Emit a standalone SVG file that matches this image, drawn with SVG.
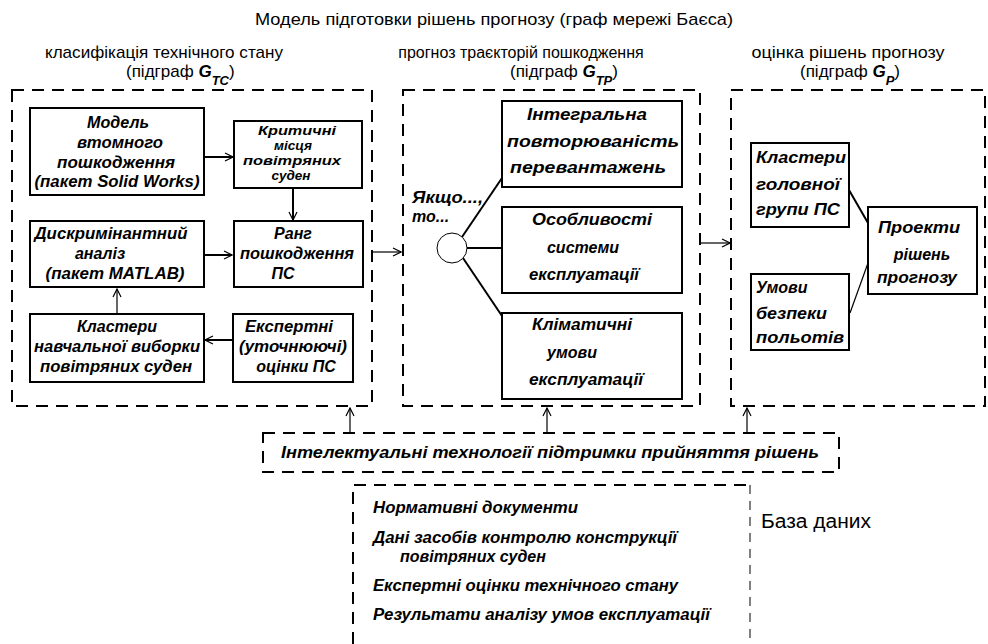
<svg xmlns="http://www.w3.org/2000/svg" width="988" height="644" viewBox="0 0 988 644">
<defs>
<style>
.bg{fill:#fff}
text{font-family:"Liberation Sans",Arial,sans-serif;fill:#000}
.lbl{font-size:17px}
.big{font-size:20px}
.t{font-size:16px;font-weight:bold;font-style:italic;text-anchor:middle}
.ts{font-size:13.5px;font-weight:bold;font-style:italic;text-anchor:middle}
.tl{font-size:16px;font-weight:bold;font-style:italic}
.gi{font-weight:bold;font-style:italic}
.sub{font-weight:bold;font-style:italic;font-size:13px}
.box{fill:#fff;stroke:#000;stroke-width:2}
.dash{fill:none;stroke:#000;stroke-width:2;stroke-dasharray:12 8}
.thindash{fill:none;stroke:#000;stroke-width:1;stroke-dasharray:9 7}
.c{fill:none;stroke:#000;stroke-width:2}
.c1{fill:none;stroke:#000;stroke-width:1.2}
</style>
<marker id="ah" viewBox="0 0 10 10" refX="9" refY="5" markerWidth="10" markerHeight="10" markerUnits="userSpaceOnUse" orient="auto">
<path d="M1,1 L9,5 L1,9" fill="none" stroke="#000" stroke-width="1.2"/>
</marker>
</defs>
<rect class="bg" x="0" y="0" width="988" height="644"/>

<text class="lbl" x="494" y="25" text-anchor="middle" textLength="478" lengthAdjust="spacingAndGlyphs">Модель підготовки рішень прогнозу (граф мережі Баєса)</text>

<g id="group-tc">
<text class="lbl" x="164" y="58" text-anchor="middle" textLength="238" lengthAdjust="spacingAndGlyphs">класифікація технічного стану</text>
<text class="lbl" x="126" y="77">(підграф <tspan class="gi">G</tspan><tspan class="sub" dy="8">TC</tspan><tspan dy="-8">)</tspan></text>
<rect class="dash" x="12" y="90" width="360" height="316"/>
</g>
<g id="group-tp">
<text class="lbl" x="521" y="58" text-anchor="middle" style="font-size:16px">прогноз траєкторій пошкодження</text>
<text class="lbl" x="510" y="77">(підграф <tspan class="gi">G</tspan><tspan class="sub" dy="8">TP</tspan><tspan dy="-8">)</tspan></text>
<rect class="dash" x="403" y="90" width="297" height="316"/>
</g>
<g id="group-p">
<text class="lbl" x="848" y="58" text-anchor="middle" textLength="193" lengthAdjust="spacingAndGlyphs">оцінка рішень прогнозу</text>
<text class="lbl" x="800" y="77">(підграф <tspan class="gi">G</tspan><tspan class="sub" dy="8">P</tspan><tspan dy="-8">)</tspan></text>
<rect class="dash" x="731" y="90" width="254" height="316"/>
</g>

<g id="connectors">
<line class="c" x1="204" y1="157" x2="233" y2="157" marker-end="url(#ah)"/>
<line class="c" x1="293" y1="188" x2="293" y2="220" marker-end="url(#ah)"/>
<line class="c" x1="204" y1="255" x2="232" y2="255" marker-end="url(#ah)"/>
<line class="c" x1="233" y1="340" x2="205" y2="340" marker-end="url(#ah)"/>
<line class="c1" x1="117" y1="314" x2="117" y2="289" marker-end="url(#ah)"/>
<line class="c1" x1="373" y1="252" x2="401" y2="252" marker-end="url(#ah)"/>
<line class="c1" x1="701" y1="243" x2="730" y2="243" marker-end="url(#ah)"/>
<line class="c1" x1="350" y1="433" x2="350" y2="408" marker-end="url(#ah)"/>
<line class="c1" x1="547" y1="433" x2="547" y2="408" marker-end="url(#ah)"/>
<line class="c1" x1="747" y1="433" x2="747" y2="408" marker-end="url(#ah)"/>
<line class="c" x1="462" y1="237" x2="502" y2="178"/>
<line class="c" x1="467" y1="248" x2="502" y2="248"/>
<line class="c" x1="463" y1="258" x2="502" y2="316"/>
<line class="c" x1="849" y1="190" x2="868" y2="223"/>
<line class="c1" x1="850" y1="313" x2="868" y2="263"/>
</g>

<g id="n-model">
<rect class="box" x="30" y="108" width="174" height="87"/>
<text class="t" x="118" y="128" textLength="62" lengthAdjust="spacingAndGlyphs">Модель</text>
<text class="t" x="120" y="148" textLength="86" lengthAdjust="spacingAndGlyphs">втомного</text>
<text class="t" x="116" y="168" textLength="118" lengthAdjust="spacingAndGlyphs">пошкодження</text>
<text class="t" x="117" y="187" textLength="165" lengthAdjust="spacingAndGlyphs">(пакет Solid Works)</text>
</g>
<g id="n-critical">
<rect class="box" x="234" y="121" width="128" height="67"/>
<text class="ts" x="297" y="135" textLength="78" lengthAdjust="spacingAndGlyphs">Критичні</text>
<text class="ts" x="293" y="150">місця</text>
<text class="ts" x="292" y="165" textLength="98" lengthAdjust="spacingAndGlyphs">повітряних</text>
<text class="ts" x="291" y="180">суден</text>
</g>
<g id="n-discr">
<rect class="box" x="30" y="221" width="174" height="66"/>
<text class="t" x="111" y="239" textLength="153" lengthAdjust="spacingAndGlyphs">Дискримінантний</text>
<text class="t" x="100" y="259">аналіз</text>
<text class="t" x="115" y="279" textLength="139" lengthAdjust="spacingAndGlyphs">(пакет MATLAB)</text>
</g>
<g id="n-rank">
<rect class="box" x="234" y="221" width="129" height="66"/>
<text class="t" x="293" y="239">Ранг</text>
<text class="t" x="297" y="259" textLength="114" lengthAdjust="spacingAndGlyphs">пошкодження</text>
<text class="t" x="283" y="279">ПС</text>
</g>
<g id="n-clusters">
<rect class="box" x="30" y="314" width="174" height="68"/>
<text class="t" x="117" y="332" textLength="80" lengthAdjust="spacingAndGlyphs">Кластери</text>
<text class="t" x="117" y="352" textLength="166" lengthAdjust="spacingAndGlyphs">навчальної виборки</text>
<text class="t" x="116" y="372" textLength="152" lengthAdjust="spacingAndGlyphs">повітряних суден</text>
</g>
<g id="n-experts">
<rect class="box" x="233" y="314" width="120" height="68"/>
<text class="t" x="289" y="332" textLength="88" lengthAdjust="spacingAndGlyphs">Експертні</text>
<text class="t" x="293" y="352" textLength="108" lengthAdjust="spacingAndGlyphs">(уточнюючі)</text>
<text class="t" x="296" y="372">оцінки ПС</text>
</g>

<g id="n-ifthen">
<circle cx="452" cy="248" r="15" fill="#fff" stroke="#000" stroke-width="1"/>
<text class="tl" x="412" y="203" textLength="71" lengthAdjust="spacingAndGlyphs">Якщо...,</text>
<text class="tl" x="412" y="222">то...</text>
</g>
<g id="n-integral">
<rect class="box" x="502" y="101" width="180" height="86"/>
<text class="t" x="587" y="120" textLength="120" lengthAdjust="spacingAndGlyphs">Інтегральна</text>
<text class="t" x="593" y="147" textLength="172" lengthAdjust="spacingAndGlyphs">повторюваність</text>
<text class="t" x="588" y="173" textLength="156" lengthAdjust="spacingAndGlyphs">перевантажень</text>
</g>
<g id="n-features">
<rect class="box" x="502" y="207" width="180" height="86"/>
<text class="t" x="592" y="225" textLength="120" lengthAdjust="spacingAndGlyphs">Особливості</text>
<text class="t" x="583" y="253">системи</text>
<text class="t" x="584" y="280" textLength="110" lengthAdjust="spacingAndGlyphs">експлуатації</text>
</g>
<g id="n-climate">
<rect class="box" x="502" y="313" width="180" height="86"/>
<text class="t" x="582" y="330" textLength="100" lengthAdjust="spacingAndGlyphs">Кліматичні</text>
<text class="t" x="572" y="358">умови</text>
<text class="t" x="586" y="385" textLength="114" lengthAdjust="spacingAndGlyphs">експлуатації</text>
</g>

<g id="n-headgroup">
<rect class="box" x="751" y="143" width="98" height="84"/>
<text class="tl" x="756" y="163" textLength="90" lengthAdjust="spacingAndGlyphs">Кластери</text>
<text class="tl" x="756" y="190" textLength="84" lengthAdjust="spacingAndGlyphs">головної</text>
<text class="tl" x="756" y="215" textLength="84" lengthAdjust="spacingAndGlyphs">групи ПС</text>
</g>
<g id="n-safety">
<rect class="box" x="751" y="274" width="98" height="76"/>
<text class="tl" x="756" y="293">Умови</text>
<text class="tl" x="756" y="319" textLength="71" lengthAdjust="spacingAndGlyphs">безпеки</text>
<text class="tl" x="756" y="343" textLength="88" lengthAdjust="spacingAndGlyphs">польотів</text>
</g>
<g id="n-projects">
<rect class="box" x="868" y="207" width="109" height="87"/>
<text class="t" x="919" y="233" textLength="82" lengthAdjust="spacingAndGlyphs">Проекти</text>
<text class="t" x="922" y="260">рішень</text>
<text class="t" x="917" y="283" textLength="80" lengthAdjust="spacingAndGlyphs">прогнозу</text>
</g>

<g id="n-its">
<rect class="dash" x="263" y="433" width="576" height="39"/>
<text class="t" x="550" y="458" textLength="538" lengthAdjust="spacingAndGlyphs">Інтелектуальні технології підтримки прийняття рішень</text>
</g>

<g id="n-db">
<path class="dash" d="M353,644 L353,485 L749,485"/>
<line class="thindash" x1="750" y1="485" x2="750" y2="644"/>
<text class="tl" x="373" y="513" textLength="205" lengthAdjust="spacingAndGlyphs">Нормативні документи</text>
<text class="tl" x="373" y="543" textLength="304" lengthAdjust="spacingAndGlyphs">Дані засобів контролю конструкції</text>
<text class="tl" x="400" y="562">повітряних суден</text>
<text class="tl" x="373" y="591" textLength="305" lengthAdjust="spacingAndGlyphs">Експертні оцінки технічного стану</text>
<text class="tl" x="373" y="620" textLength="337" lengthAdjust="spacingAndGlyphs">Результати аналізу умов експлуатації</text>
<text class="big" x="761" y="528" textLength="110" lengthAdjust="spacingAndGlyphs">База даних</text>
</g>
</svg>
